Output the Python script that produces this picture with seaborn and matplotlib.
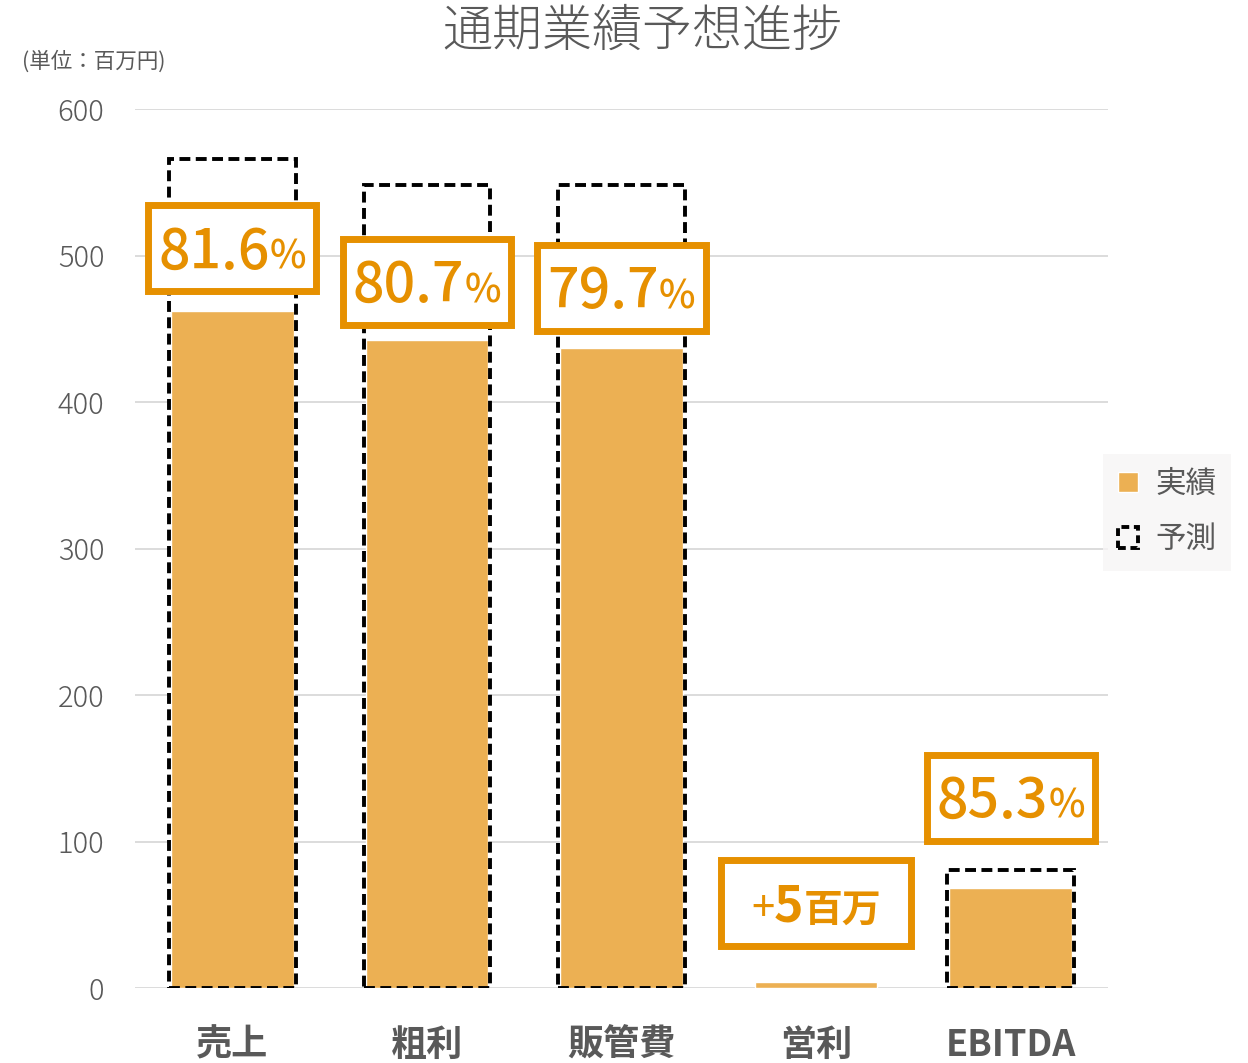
import matplotlib.pyplot as plt
import pandas as pd
import seaborn as sns
from matplotlib.patches import Patch, Rectangle

# Data (unit: 百万円)
categories = ['売上', '粗利', '販管費', '営利', 'EBITDA']
actual = [462, 442, 437, 4, 68.5]
forecast = [566, 548, 548, None, 80.5]
label_text = ['81.6%', '80.7%', '79.7%', '+5百万', '85.3%']
label_y = [505, 482, 478, 58, 130]

bar_color = '#ECB053'
label_color = '#E69000'
text_gray = '#595959'

sns.set_style('white')
plt.rcParams['font.family'] = ['Noto Sans CJK JP', 'DejaVu Sans']

df_act = pd.DataFrame({'item': categories, 'value': actual})
df_fc = pd.DataFrame({'item': categories, 'value': forecast}).dropna()

fig = plt.figure(figsize=(12.48, 10.63), dpi=100)
ax = fig.add_axes([135 / 1248, 1 - 988 / 1063, 973 / 1248, 879 / 1063])

# actual bars, then the forecast drawn as dashed outline on top
sns.barplot(data=df_act, x='item', y='value', order=categories, color=bar_color,
            saturation=1, width=0.63, errorbar=None, ax=ax, zorder=2)
sns.barplot(data=df_fc, x='item', y='value', order=categories, color='black',
            fill=False, width=0.65, errorbar=None, ax=ax, zorder=3,
            linewidth=2.8, linestyle=(0, (2.8, 1.4)))

ax.set_ylim(0, 600)
ax.set_yticks(range(0, 601, 100))
ax.yaxis.grid(True, color='#D9D9D9', linewidth=1.3)
ax.set_axisbelow(True)
sns.despine(ax=ax, left=True, bottom=True)
ax.set_xlabel('')
ax.set_ylabel('')
ax.tick_params(axis='y', length=0, pad=22, labelsize=21, labelcolor=text_gray)
ax.tick_params(axis='x', length=0, pad=28, labelsize=26, labelcolor=text_gray)
for t in ax.get_xticklabels():
    t.set_fontweight('bold')
for t in ax.get_yticklabels():
    t.set_fontweight('light')

fig.text(0.515, 1 - 32 / 1063, '通期業績予想進捗', fontsize=36, color=text_gray,
         fontweight='light', ha='center', va='center')
fig.text(22 / 1248, 1 - 62 / 1063, '(単位：百万円)', fontsize=15.5, color=text_gray,
         ha='left', va='center')

handles = [
    Patch(facecolor=bar_color, label='実績'),
    Patch(facecolor='none', edgecolor='black', linestyle=(0, (2, 1.2)),
          linewidth=2.8, label='予測'),
]
fig.legend(handles=handles, loc='center left',
           bbox_to_anchor=(1103 / 1248, 1 - 512 / 1063), frameon=True,
           facecolor='#F7F5F6', edgecolor='none', fancybox=False, fontsize=22,
           labelcolor=text_gray, handlelength=0.65, handleheight=0.65,
           handletextpad=0.55, labelspacing=0.8, borderpad=0.5, borderaxespad=0)


def split_label(s):
    # percent labels: big number + smaller %; 営利: "+", bold digit, bold unit
    if s.endswith('%'):
        return [(s[:-1], 40, 'medium'), ('%', 28, 'medium')]
    return [(s[0], 30, 'normal'), (s[1:-2], 36, 'bold'), (s[-2:], 28, 'bold')]


pads = [10, 10, 10, 30, 10]
texts = []
for s in label_text:
    parts = []
    for txt, size, weight in split_label(s):
        parts.append(ax.text(0, 0, txt, fontsize=size, fontweight=weight,
                             color=label_color, ha='left', va='baseline',
                             transform=ax.transAxes, zorder=6, clip_on=False))
    texts.append(parts)

fig.canvas.draw()
renderer = fig.canvas.get_renderer()
to_axes = ax.transAxes.inverted()
px_per_pt = fig.dpi / 72

for i, parts in enumerate(texts):
    cx, cy = ax.transData.transform((i, label_y[i]))
    widths = [t.get_window_extent(renderer).width for t in parts]
    total = sum(widths)
    big = max(t.get_fontsize() for t in parts)
    baseline = cy - 0.733 * big * px_per_pt / 2
    x = cx - total / 2
    for t, w in zip(parts, widths):
        t.set_position(to_axes.transform((x, baseline)))
        x += w
    box_h = 86
    (x0, y0) = to_axes.transform((cx - total / 2 - pads[i], cy - box_h / 2))
    (x1, y1) = to_axes.transform((cx + total / 2 + pads[i], cy + box_h / 2))
    ax.add_patch(Rectangle((x0, y0), x1 - x0, y1 - y0, transform=ax.transAxes,
                           facecolor='white', edgecolor=label_color,
                           linewidth=5, zorder=5, clip_on=False))

fig.savefig('out.png', dpi=100)
